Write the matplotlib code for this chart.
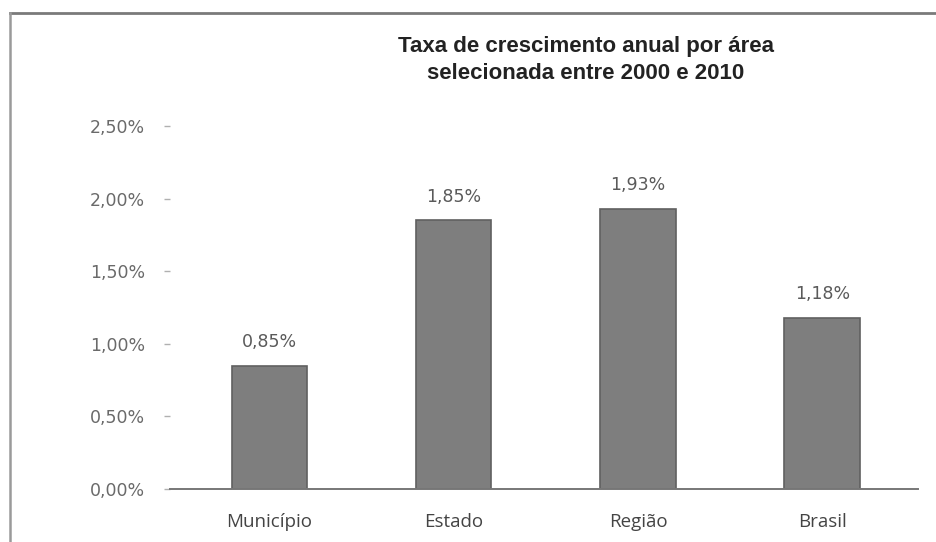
import matplotlib
matplotlib.use("Agg")
import matplotlib.pyplot as plt
from matplotlib.lines import Line2D

# data
categorias = ["Município", "Estado", "Região", "Brasil"]
taxas = [0.85, 1.85, 1.93, 1.18]
rotulos = ["0,85%", "1,85%", "1,93%", "1,18%"]
yticks = [0.0, 0.5, 1.0, 1.5, 2.0, 2.5]
ytick_labels = ["0,00%", "0,50%", "1,00%", "1,50%", "2,00%", "2,50%"]

plt.rcParams['font.family'] = ['DejaVu Sans']

W, H = 937, 542
fig = plt.figure(figsize=(W / 100, H / 100), dpi=100)
fig.patch.set_facecolor("white")

# outer frame (top and left edge visible only)
fig.lines.append(Line2D([10 / W, 1], [1 - 13 / H, 1 - 13 / H], transform=fig.transFigure,
                        color="#7a7a7a", linewidth=2))
fig.lines.append(Line2D([10 / W, 10 / W], [0, 1 - 13 / H], transform=fig.transFigure,
                        color="#9a9a9a", linewidth=1.8))

# axes: x from 170 to 918 px, y from 489 (0%) to 126 (2.5%)
ax = fig.add_axes([170 / W, (H - 489) / H, 748 / W, (489 - 126) / H])
x = list(range(len(categorias)))
ax.bar(x, taxas, width=0.41, color="#7e7e7e", edgecolor="#606060", linewidth=1.2, zorder=2)

for xi, v, r in zip(x, taxas, rotulos):
    ax.text(xi, v + 0.1, r, ha="center", va="bottom", fontsize=12.5, color="#5a5a5a")

ax.set_xlim(-0.54, 3.52)
ax.set_ylim(0, 2.5)
ax.set_yticks(yticks)
ax.set_yticklabels(ytick_labels, fontsize=12.5, color="#6a6a6a")
ax.set_xticks(x)
ax.set_xticklabels(categorias, fontsize=13.5, color="#444444", family="Open Sans")
ax.tick_params(axis="y", length=4, width=1, color="#b0b0b0", pad=14, direction="out")
ax.tick_params(axis="x", length=0, pad=17)

for s in ["top", "right", "left"]:
    ax.spines[s].set_visible(False)
ax.spines["bottom"].set_color("#777777")
ax.spines["bottom"].set_linewidth(1.4)

fig.text(586 / W, 1 - 60 / H, "Taxa de crescimento anual por área\nselecionada entre 2000 e 2010",
         ha="center", va="center", fontsize=16, fontweight="bold", color="#222222",
         family="Liberation Sans", linespacing=1.35)

fig.savefig("out.png", dpi=100)
